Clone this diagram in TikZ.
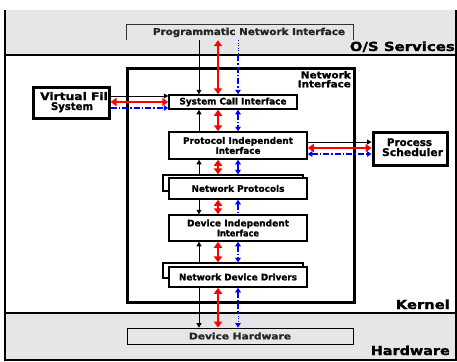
\documentclass[tikz,border=0pt]{standalone}
\usepackage{fontspec}
\setmainfont{DejaVu Sans}[BoldFeatures={FakeBold=1.2}]
\usepackage{graphicx}
\usetikzlibrary{arrows.meta}
\newlength\twlen
\newcommand\tw[2]{\settowidth\twlen{#2}\pgfmathsetmacro\twfac{#1/\the\twlen}\scalebox{\twfac}[1]{#2}}
\definecolor{bandgrey}{RGB}{230,230,230}
\tikzset{
  btip/.tip={Triangle[width=5.5pt,length=4.5pt]},
  rtip/.tip={Triangle[width=8pt,length=6pt]},
  ktip/.tip={Triangle[width=5pt,length=4.5pt]},
  box/.style={draw, line width=1.5pt, fill=white, inner sep=0pt, align=center,
    font=\fontsize{9}{10}\selectfont\bfseries},
  thickbox/.style={draw, line width=3pt, inner sep=0pt, align=center,
    font=\fontsize{10.5}{10}\selectfont\bfseries},
  lbl/.style={inner sep=0pt, font=\fontsize{9.5}{10}\selectfont\bfseries},
  biglbl/.style={inner sep=0pt, font=\fontsize{12.5}{13}\selectfont\bfseries},
  blkarr/.style={draw=black, line width=0.8pt, -ktip},
  redline/.style={draw=red, line width=2.6pt},
  redtip/.style={rtip-rtip},
  blueline/.style={draw=blue, line width=1.3pt, dash pattern=on 6pt off 2pt on 1.5pt off 2pt},
  bluedot/.style={draw=blue, line width=1pt, dash pattern=on 1pt off 1.5pt},
}
\begin{document}
\begin{tikzpicture}[x=1pt,y=-1pt]
\useasboundingbox (0,0) rectangle (457,361);
% bands
\fill[bandgrey] (5,10) rectangle (456,55);
\fill[bandgrey] (5,313) rectangle (456,360);
\draw[line width=1.6pt] (5,10) -- (5,360) -- (456,360) -- (456,10);
\draw[line width=2pt] (5,55) -- (456,55);
\draw[line width=2pt] (5,313) -- (456,313);
\coordinate (osk) at (0,55);
\coordinate (khw) at (0,313);

% band labels
\node[biglbl, anchor=base east] (oss) at (455,51) {\tw{105pt}{O/S Services}};
\node[biglbl, anchor=base east] (ker) at (450,309) {\tw{54pt}{Kernel}};
\node[biglbl, anchor=base east] (hwl) at (450,355) {\tw{79pt}{Hardware}};

% programmatic network interface
\node[inner sep=0pt, minimum width=226pt, minimum height=15pt] (pni) at (240,32.5) {};
\draw[line width=0.8pt, black!80] (pni.south west) -- (pni.north west) -- (pni.north east) -- (pni.south east);
\node[lbl, anchor=base, text=black!85] (pnit) at (249,35) {\tw{192pt}{Programmatic Network Interface}};

% network interface
\node[thickbox, minimum width=227pt, minimum height=234pt] (ni) at (240.5,185) {};
\node[lbl, anchor=base east] (nil1) at (351,78.3) {\tw{50pt}{Network}};
\node[lbl, anchor=base east] (nil2) at (351,87.3) {\tw{53pt}{Interface}};

% virtual file system
\node[thickbox, minimum width=76pt, minimum height=31pt] (vfs) at (71,102.5) {};
\begin{scope}
\clip ([xshift=1.5pt,yshift=1.5pt]vfs.south west) rectangle ([xshift=-2.2pt,yshift=-1.5pt]vfs.north east);
\node[inner sep=0pt, anchor=base west, font=\fontsize{10.5}{10}\selectfont\bfseries] (vfst1) at (40,100) {\tw{76pt}{Virtual File}};
\end{scope}
\node[inner sep=0pt, anchor=base, font=\fontsize{10.5}{10}\selectfont\bfseries] (vfst2) at (72,110) {\tw{42pt}{System}};

% process scheduler
\node[thickbox, minimum width=74pt, minimum height=33pt] (ps) at (410,148.5) {};
\node[inner sep=0pt, anchor=base, font=\fontsize{10.5}{10}\selectfont\bfseries] (pst1) at (409.5,146) {\tw{45pt}{Process}};
\node[inner sep=0pt, anchor=base, font=\fontsize{10.5}{10}\selectfont\bfseries] (pst2) at (412.5,156) {\tw{61pt}{Scheduler}};

% inner boxes
\node[box, minimum width=128pt, minimum height=14pt] (sci) at (233,102) {\tw{107pt}{System Call Interface}};
\node[box, minimum width=138pt, minimum height=27pt] (pii) at (238,145.5) {\tw{110pt}{Protocol Independent}\\\tw{45pt}{Interface}};
\node[box, line width=1.2pt, minimum width=140pt, minimum height=16pt] (npb) at (233,183) {};
\node[box, minimum width=138pt, minimum height=21pt] (np) at (238,188.5) {\tw{93pt}{Network Protocols}};
\node[box, minimum width=138pt, minimum height=26pt] (dii) at (238,228) {\tw{102pt}{Device Independent}\\\tw{42pt}{Interface}};
\node[box, line width=1.2pt, minimum width=140pt, minimum height=15pt] (nddb) at (233,270.5) {};
\node[box, minimum width=138pt, minimum height=20pt] (ndd) at (238,277) {\tw{118pt}{Network Device Drivers}};
\node[box, line width=0.8pt, fill=bandgrey, minimum width=226pt, minimum height=16pt, text=black!85] (dh) at (240,336) {\tw{102pt}{Device Hardware}};

% columns
\coordinate (cb) at (199,0);
\coordinate (cr) at (218,0);
\coordinate (cu) at (238,0);

% black arrows
\draw[blkarr] (pni.south -| cb) -- (sci.north -| cb);
\draw[blkarr] (pii.north -| cb) -- (sci.south -| cb);
\draw[blkarr] (npb.north -| cb) -- (pii.south -| cb);
\draw[blkarr] (np.south -| cb) -- (dii.north -| cb);
\draw[blkarr] (nddb.north -| cb) -- (dii.south -| cb);
\draw[blkarr] (ndd.south -| cb) -- (dh.north -| cb);

% red arrows
\draw[redline, redtip] (pni.south -| cr) -- (sci.north -| cr);
\draw[redline, redtip] (sci.south -| cr) -- (pii.north -| cr);
\draw[redline, redtip] (pii.south -| cr) -- (npb.north -| cr);
\draw[redline, redtip] (np.south -| cr) -- (dii.north -| cr);
\draw[redline, redtip] (dii.south -| cr) -- (nddb.north -| cr);
\draw[redline, redtip] (ndd.south -| cr) -- (dh.north -| cr);

% blue arrows
\draw[bluedot] (pni.south -| cu) -- (osk -| cu);
\draw[blueline, -btip] (osk -| cu) -- (sci.north -| cu);
\draw[blueline, btip-btip] (sci.south -| cu) -- (pii.north -| cu);
\draw[blueline, btip-btip] (pii.south -| cu) -- (npb.north -| cu);
\draw[blueline, btip-] (np.south -| cu) -- (dii.north -| cu);
\draw[blueline, btip-btip] (dii.south -| cu) -- (nddb.north -| cu);
\draw[blueline, btip-] (ndd.south -| cu) -- (khw -| cu);
\draw[bluedot, -btip] (khw -| cu) -- (dh.north -| cu);

% horizontal connectors
\coordinate (h1) at (0,96);
\coordinate (h2) at (0,102);
\coordinate (h3) at (0,108);
\coordinate (h4) at (0,142);
\coordinate (h5) at (0,148);
\coordinate (h6) at (0,154);
\draw[blkarr] (vfs.east |- h1) -- (sci.west |- h1);
\draw[redline, redtip] (vfs.east |- h2) -- (sci.west |- h2);
\draw[blueline, -btip] (vfs.east |- h3) -- (sci.west |- h3);
\draw[blkarr] (pii.east |- h4) -- (ps.west |- h4);
\draw[redline, redtip] (pii.east |- h5) -- (ps.west |- h5);
\draw[blueline, btip-btip] (pii.east |- h6) -- (ps.west |- h6);
\end{tikzpicture}
\end{document}
